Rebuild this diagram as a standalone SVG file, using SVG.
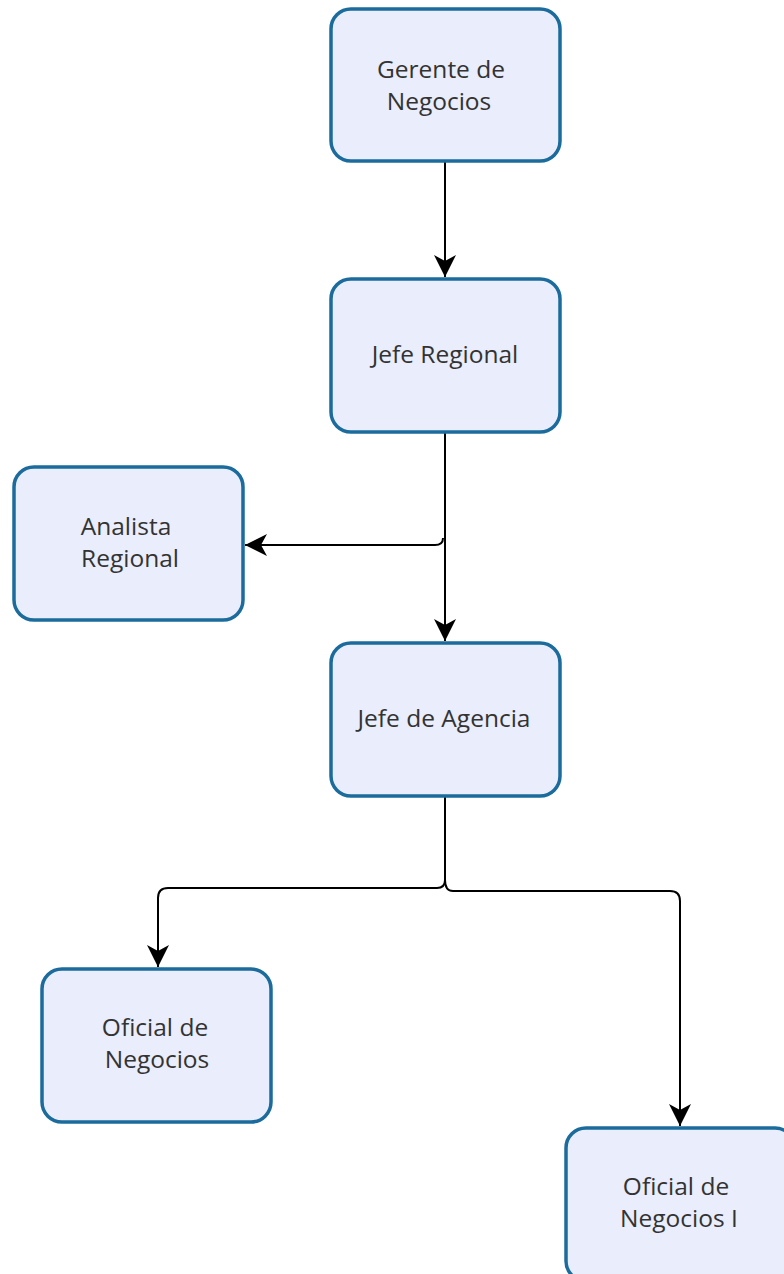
<svg xmlns="http://www.w3.org/2000/svg" width="784" height="1274" viewBox="0 0 784 1274">
<defs>
<style>
.node rect{fill:#e9edfc;stroke:#1b6c9c;stroke-width:3.5}
.node text{font-family:"Open Sans","Noto Sans",sans-serif;font-size:24.5px;fill:#333;text-anchor:middle}
.conn path{fill:none;stroke:#000;stroke-width:2}
</style>
<marker id="ah" markerUnits="userSpaceOnUse" markerWidth="26" markerHeight="26" refX="23" refY="13" orient="auto" viewBox="0 0 26 26">
<path d="M23,13 L1,2 L7,13 L1,24 Z" fill="#000"/>
</marker>
</defs>
<rect width="784" height="1274" fill="#fff"/>
<g class="conn">
<path d="M445,161 V277" marker-end="url(#ah)"/>
<path d="M445,432 V641" marker-end="url(#ah)"/>
<path d="M443,538 Q443,545 435,545 H245" marker-end="url(#ah)"/>
<path d="M445,796 V880 Q445,888 437,888 H168 Q158,888 158,898 V967" marker-end="url(#ah)"/>
<path d="M445,880 Q445,891 453,891 H670 Q680,891 680,901 V1126" marker-end="url(#ah)"/>
</g>
<g id="gerente" class="node"><rect x="331" y="9" width="229" height="152" rx="20"/><text x="441" y="78">Gerente de</text><text x="439" y="110">Negocios</text></g>
<g id="jefe-regional" class="node"><rect x="331" y="279" width="229" height="153" rx="20"/><text x="445" y="363">Jefe Regional</text></g>
<g id="analista" class="node"><rect x="14" y="467" width="229" height="153" rx="20"/><text x="126" y="535">Analista</text><text x="130" y="567">Regional</text></g>
<g id="jefe-agencia" class="node"><rect x="331" y="643" width="229" height="153" rx="20"/><text x="444" y="727">Jefe de Agencia</text></g>
<g id="oficial" class="node"><rect x="42" y="969" width="229" height="153" rx="20"/><text x="155" y="1036">Oficial de</text><text x="157" y="1068">Negocios</text></g>
<g id="oficial-i" class="node"><rect x="566" y="1128" width="229" height="153" rx="20"/><text x="676" y="1195">Oficial de</text><text x="679" y="1227">Negocios I</text></g>
</svg>
